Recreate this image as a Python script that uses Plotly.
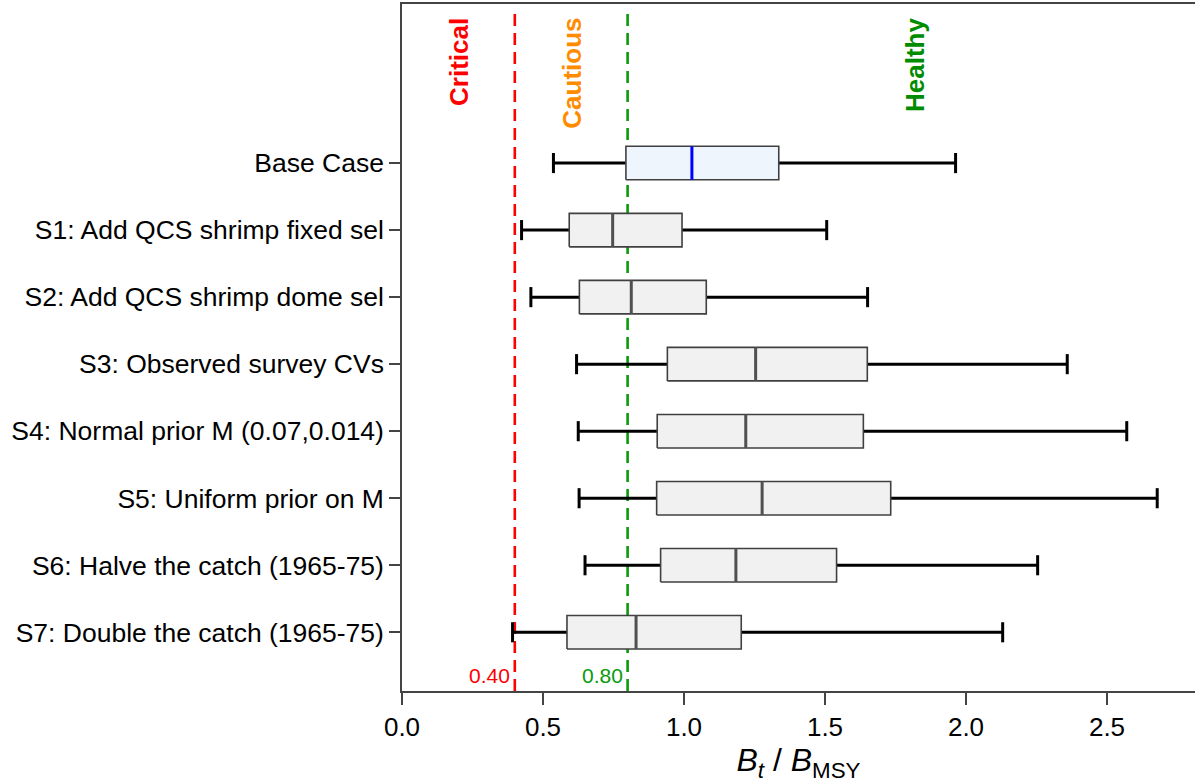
import plotly.graph_objects as go

# ---------------- data ----------------
scenarios = [
    "Base Case",
    "S1: Add QCS shrimp fixed sel",
    "S2: Add QCS shrimp dome sel",
    "S3: Observed survey CVs",
    "S4: Normal prior M (0.07,0.014)",
    "S5: Uniform prior on M",
    "S6: Halve the catch (1965-75)",
    "S7: Double the catch (1965-75)",
]
low    = [0.537, 0.424, 0.457, 0.619, 0.625, 0.628, 0.649, 0.392]
q1     = [0.794, 0.593, 0.629, 0.941, 0.905, 0.903, 0.917, 0.585]
median = [1.028, 0.747, 0.813, 1.254, 1.219, 1.277, 1.184, 0.830]
q3     = [1.336, 0.993, 1.079, 1.650, 1.636, 1.733, 1.541, 1.203]
high   = [1.963, 1.506, 1.651, 2.359, 2.570, 2.678, 2.254, 2.130]

ref_values = [0.4, 0.8]
ref_colors = ["#ff0000", "#0a9a0a"]
zone_labels = ["Critical", "Cautious", "Healthy"]
zone_colors = ["#ff0000", "#ff8c00", "#008c00"]
zone_x = [0.202, 0.60, 1.819]
x_ticks = [0.0, 0.5, 1.0, 1.5, 2.0, 2.5]

# ---------------- figure ----------------
n = len(scenarios)
ypos = [n - 1 - i for i in range(n)]
half_box = 0.25
half_cap = 0.15
FONT = "Liberation Sans, Arial, sans-serif"

fig = go.Figure()

for i in range(n):
    y = ypos[i]
    base = (i == 0)
    # whiskers
    fig.add_trace(go.Scatter(
        x=[low[i], q1[i], None, q3[i], high[i]],
        y=[y, y, None, y, y],
        mode="lines", line=dict(color="black", width=3),
        showlegend=False, hoverinfo="skip"))
    # caps
    fig.add_trace(go.Scatter(
        x=[low[i], low[i], None, high[i], high[i]],
        y=[y - half_cap, y + half_cap, None, y - half_cap, y + half_cap],
        mode="lines", line=dict(color="black", width=3),
        showlegend=False, hoverinfo="skip"))
    # box
    fig.add_trace(go.Scatter(
        x=[q1[i], q3[i], q3[i], q1[i], q1[i]],
        y=[y - half_box, y - half_box, y + half_box, y + half_box, y - half_box],
        mode="lines", fill="toself",
        fillcolor="#eef5fd" if base else "#f1f1f1",
        line=dict(color="#404040", width=1.6),
        showlegend=False, hoverinfo="skip"))
    # median
    fig.add_trace(go.Scatter(
        x=[median[i], median[i]],
        y=[y - half_box, y + half_box],
        mode="lines",
        line=dict(color="#0000ff" if base else "#505050", width=3),
        showlegend=False, hoverinfo="skip"))

top_frac = 1 - 8 / 687
for v, c in zip(ref_values, ref_colors):
    fig.add_shape(type="line", xref="x", yref="paper", x0=v, x1=v,
                  y0=0, y1=top_frac, layer="below",
                  line=dict(color=c, width=2.6, dash="12px,7px"))
    fig.add_annotation(x=v, y=0.023, xref="x", yref="paper",
                       text=f"{v:.2f}", showarrow=False,
                       xanchor="right", yanchor="middle", xshift=-3,
                       font=dict(family=FONT, size=21, color=c))

for lab, c, xz in zip(zone_labels, zone_colors, zone_x):
    fig.add_annotation(x=xz, y=1 - 12 / 687, xref="x", yref="paper",
                       text=f"<b>{lab}</b>", showarrow=False, textangle=-90,
                       xanchor="center", yanchor="top",
                       font=dict(family=FONT, size=26, color=c))

fig.update_layout(
    width=1195, height=784,
    margin=dict(l=402, r=0, t=4, b=93),
    plot_bgcolor="white", paper_bgcolor="white",
    font=dict(family=FONT, size=26, color="black"),
    xaxis=dict(
        range=[0, 2.812], tickvals=x_ticks, ticktext=[f"{t:.1f}" for t in x_ticks],
        showline=True, linecolor="#444", linewidth=1.5, mirror=True,
        ticks="outside", ticklen=12, tickwidth=1.5, tickcolor="#444",
        showgrid=False, zeroline=False,
        tickfont=dict(family=FONT, size=26),
        title=dict(text="<i>B</i><sub><i>t</i></sub> / <i>B</i><sub>MSY</sub>",
                   font=dict(family=FONT, size=32), standoff=6),
    ),
    yaxis=dict(
        range=[-0.876, 9.373], tickvals=ypos, ticktext=scenarios,
        showline=True, linecolor="#444", linewidth=1.5, mirror=False,
        ticks="outside", ticklen=11, tickwidth=1.5, tickcolor="#444",
        showgrid=False, zeroline=False,
        tickfont=dict(family=FONT, size=26.5),
    ),
)

fig.write_html("out.html")
